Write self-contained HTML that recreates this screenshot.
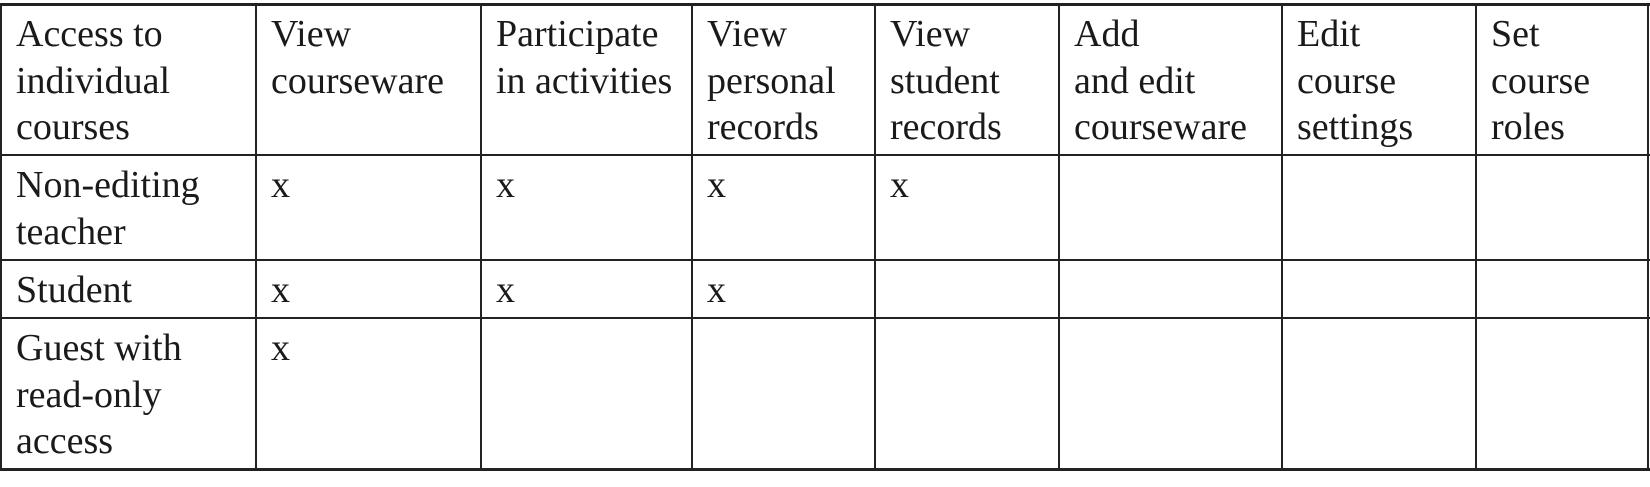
<!DOCTYPE html>
<html><head><meta charset="utf-8"><style>
html,body{margin:0;padding:0;background:#fff;}
body{width:1650px;height:487px;position:relative;overflow:hidden;font-family:"Liberation Serif",serif;color:#1a1a1a;}
.h{position:absolute;background:#222;height:2px;}
.v{position:absolute;background:#222;width:2px;}
.t{position:absolute;font-size:38px;line-height:46.5px;white-space:nowrap;}
</style></head><body>
<div class="h" style="left:0;width:1650px;top:3px;height:3px"></div>
<div class="h" style="left:0;width:1650px;top:154px"></div>
<div class="h" style="left:0;width:1650px;top:259px"></div>
<div class="h" style="left:0;width:1650px;top:317px"></div>
<div class="h" style="left:0;width:1650px;top:468px;height:3px"></div>
<div class="v" style="left:0;top:4px;height:466px"></div>
<div class="v" style="left:255px;top:4px;height:466px"></div>
<div class="v" style="left:480px;top:4px;height:466px"></div>
<div class="v" style="left:691px;top:4px;height:466px"></div>
<div class="v" style="left:874px;top:4px;height:466px"></div>
<div class="v" style="left:1058px;top:4px;height:466px"></div>
<div class="v" style="left:1281px;top:4px;height:466px"></div>
<div class="v" style="left:1475px;top:4px;height:466px"></div>
<div class="v" style="left:1647px;top:4px;height:466px"></div>

<div class="t" style="left:16px;top:11px">Access to<br>individual<br>courses</div>
<div class="t" style="left:271px;top:11px">View<br>courseware</div>
<div class="t" style="left:496px;top:11px">Participate<br>in activities</div>
<div class="t" style="left:707px;top:11px">View<br>personal<br>records</div>
<div class="t" style="left:890px;top:11px">View<br>student<br>records</div>
<div class="t" style="left:1074px;top:11px">Add<br>and edit<br>courseware</div>
<div class="t" style="left:1297px;top:11px">Edit<br>course<br>settings</div>
<div class="t" style="left:1491px;top:11px">Set<br>course<br>roles</div>

<div class="t" style="left:16px;top:162px">Non-editing<br>teacher</div>
<div class="t" style="left:271px;top:162px">x</div>
<div class="t" style="left:496px;top:162px">x</div>
<div class="t" style="left:707px;top:162px">x</div>
<div class="t" style="left:890px;top:162px">x</div>

<div class="t" style="left:16px;top:267px">Student</div>
<div class="t" style="left:271px;top:267px">x</div>
<div class="t" style="left:496px;top:267px">x</div>
<div class="t" style="left:707px;top:267px">x</div>

<div class="t" style="left:16px;top:325px">Guest with<br>read-only<br>access</div>
<div class="t" style="left:271px;top:325px">x</div>
</body></html>
